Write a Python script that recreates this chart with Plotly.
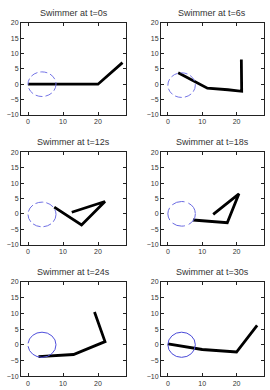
import plotly.graph_objects as go

titles = ["Swimmer at t=0s", "Swimmer at t=6s", "Swimmer at t=12s",
          "Swimmer at t=18s", "Swimmer at t=24s", "Swimmer at t=30s"]

swim_x = [
    [0, 20, 27],
    [3, 11.5, 17.5, 21.5, 21.4],
    [7.5, 15.3, 22, 12.5],
    [7.3, 12.4, 17.3, 20.7, 13.2],
    [3, 13, 22, 19],
    [0, 10, 20, 26],
]
swim_y = [
    [0, 0, 7],
    [3.7, -1.3, -1.8, -2.3, 8],
    [2.2, -3.6, 4, 0.5],
    [-2, -2.5, -2.9, 6.5, -0.2],
    [-3.8, -3.1, 1, 10.4],
    [0.3, -1.5, -2.3, 6.2],
]

# circle (body of swimmer): centre and radius in data units
circle_cx = [4, 4, 4, 4, 4, 4]
circle_cy = [0, -0.3, -0.2, 0, 0, 0]
circle_r = [4, 4, 4, 4, 4, 4]
circle_dash = ["7px,3px", "7px,3px", "8px,3px", "13px,4px", "40px,3px", "solid"]
circle_color = ["#7575e6", "#7575e6", "#7070e4", "#6a6ae2", "#5050dc", "#4a4ad8"]

x_ticks = [0, 10, 20]
y_ticks = [-10, -5, 0, 5, 10, 15, 20]

W, H = 270, 390
col_px = [(21, 126), (161, 264)]
row_px = [(19, 113), (151, 245), (283, 379)]

fig = go.Figure()
layout = dict(width=W, height=H, margin=dict(l=0, r=0, t=0, b=0),
              paper_bgcolor="white", plot_bgcolor="white", showlegend=False,
              font=dict(family="Liberation Sans", size=7, color="#333"))
shapes = []
annotations = []
for i in range(6):
    r, c = divmod(i, 2)
    n = "" if i == 0 else str(i + 1)
    xd = [col_px[c][0] / W, col_px[c][1] / W]
    yd = [1 - row_px[r][1] / H, 1 - row_px[r][0] / H]
    fig.add_trace(go.Scatter(x=swim_x[i], y=swim_y[i], mode="lines",
                             line=dict(color="black", width=2.8),
                             xaxis="x" + n, yaxis="y" + n, hoverinfo="skip"))
    axcommon = dict(showgrid=False, zeroline=False, showline=True, linecolor="#222",
                    linewidth=1, mirror="ticks", ticks="inside", ticklen=3,
                    tickcolor="#222", tickfont=dict(size=7, color="#333"))
    layout["xaxis" + n] = dict(domain=xd, range=[-2, 28], anchor="y" + n,
                               tickvals=x_ticks, **axcommon)
    layout["yaxis" + n] = dict(domain=yd, range=[-10, 20], anchor="x" + n,
                               tickvals=y_ticks, **axcommon)
    shapes.append(dict(type="circle", xref="x" + n, yref="y" + n,
                       x0=circle_cx[i] - circle_r[i], x1=circle_cx[i] + circle_r[i],
                       y0=circle_cy[i] - circle_r[i], y1=circle_cy[i] + circle_r[i],
                       line=dict(color=circle_color[i], width=1, dash=circle_dash[i])))
    annotations.append(dict(text=titles[i], xref="paper", yref="paper",
                            x=(xd[0] + xd[1]) / 2, y=yd[1], yshift=3,
                            xanchor="center", yanchor="bottom", showarrow=False,
                            font=dict(size=9, color="#333")))
layout["shapes"] = shapes
layout["annotations"] = annotations
fig.update_layout(**layout)
fig.write_html("out.html")
